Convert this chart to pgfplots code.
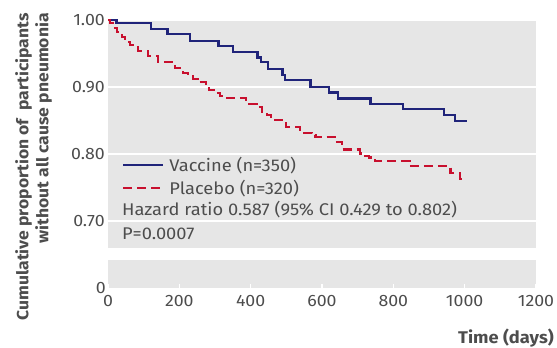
\documentclass[border=0pt]{standalone}
\usepackage{pgfplots}
\pgfplotsset{compat=1.18}
\usepackage{fontspec}
\setmainfont{Fira Sans}[FakeStretch=1.08]
\definecolor{panel}{RGB}{230,230,230}
\definecolor{txt}{RGB}{77,77,77}
\definecolor{vblue}{RGB}{32,36,122}
\definecolor{pred}{RGB}{200,16,46}
\begin{document}
\begin{tikzpicture}
\path[use as bounding box] (0bp,0bp) rectangle (557bp,348bp);
\pgfplotsset{
  base/.style={
    scale only axis, width=428bp, xmin=0, xmax=1200,
    axis line style={draw=none},
    axis background/.style={fill=panel},
    tick label style={font=\fontsize{16.5}{18}\selectfont, text=txt},
    /pgf/number format/assume math mode=true,
    /pgf/number format/1000 sep={},
    clip=false,
  }
}
\begin{axis}[base, at={(108bp,100bp)}, anchor=south west, height=228bp,
  ymin=0.66, ymax=1.0, ytick={0.7,0.8,0.9,1.0},
  /pgf/number format/fixed, /pgf/number format/fixed zerofill, /pgf/number format/precision=2,
  yticklabel style={inner sep=0pt, xshift=-3bp},
  xtick=\empty, ymajorgrids, grid style={white, line width=1.6bp},
  major tick length=0pt, tick style={draw=none},
  legend cell align=left,
  legend image code/.code={\draw[#1] (0bp,2.7bp) -- (40bp,2.7bp);},
  legend style={draw=none, fill=none, inner sep=0pt, row sep=6.6bp, column sep=0bp,
    at={(rel axis cs:0.0327,0.387)}, anchor=north west,
    nodes={inner sep=0pt, text height=12bp, text depth=4bp, font=\fontsize{17}{19}\selectfont, text=txt},
  },
]
\addplot[const plot, vblue, line width=2.2bp] coordinates {
(0,1.0) (24,0.995) (120,0.987) (167,0.979) (230,0.969) (310,0.961) (351,0.952) (419,0.944) (430,0.937) (449,0.927) (489,0.918) (496,0.910) (568,0.900) (620,0.892) (645,0.883) (736,0.875) (827,0.867) (941,0.858) (972,0.849) (1007,0.849)
};
\addlegendentry{\hspace{5bp}Vaccine (n=350)}
\addplot[const plot, pred, line width=2.2bp, dash pattern=on 9bp off 5bp] coordinates {
(0,1.0) (6,0.995) (14,0.988) (25,0.982) (39,0.975) (48,0.967) (62,0.963) (84,0.954) (112,0.946) (140,0.937) (188,0.929) (210,0.921) (224,0.917) (238,0.912) (252,0.907) (274,0.901) (283,0.896) (302,0.891) (314,0.887) (330,0.884) (386,0.875) (417,0.870) (431,0.863) (445,0.858) (456,0.851) (498,0.841) (538,0.836) (549,0.831) (571,0.829) (582,0.825) (636,0.818) (655,0.807) (706,0.801) (711,0.797) (731,0.795) (748,0.790) (846,0.782) (960,0.772) (986,0.763) (1005,0.763)
};
\addlegendentry{\hspace{5bp}Placebo (n=320)}
\node[anchor=base west, inner sep=0pt, text=txt, font=\fontsize{17}{19}\selectfont] at (axis cs:39,0.709) {Hazard ratio 0.587 (95\% CI 0.429 to 0.802)};
\node[anchor=base west, inner sep=0pt, text=txt, font=\fontsize{17}{19}\selectfont] at (axis cs:39,0.673) {P=0.0007};
\end{axis}
\begin{axis}[base, at={(108bp,60bp)}, anchor=south west, height=28bp,
  ymin=0, ymax=1, ytick={0}, yticklabel style={inner sep=0pt, xshift=-2bp},
  xtick={0,200,...,1200}, xticklabel style={inner sep=0pt, yshift=-7bp},
  xtick pos=bottom, ytick style={draw=none}, tick align=inside,
  xtick style={white, line width=1.2bp}, major tick length=4bp,
]
\end{axis}
\node[rotate=90, anchor=north east, align=right, inner sep=0pt, text=txt,
  font=\bfseries\fontsize{16.3}{20}\selectfont] at (15bp,335bp)
  {Cumulative proportion of\ \ participants\\without all cause pneumonia};
\node[anchor=base east, inner sep=0pt, text=txt, font=\bfseries\fontsize{17}{19}\selectfont] at (554bp,4.5bp) {Time (days)};
\end{tikzpicture}
\end{document}
